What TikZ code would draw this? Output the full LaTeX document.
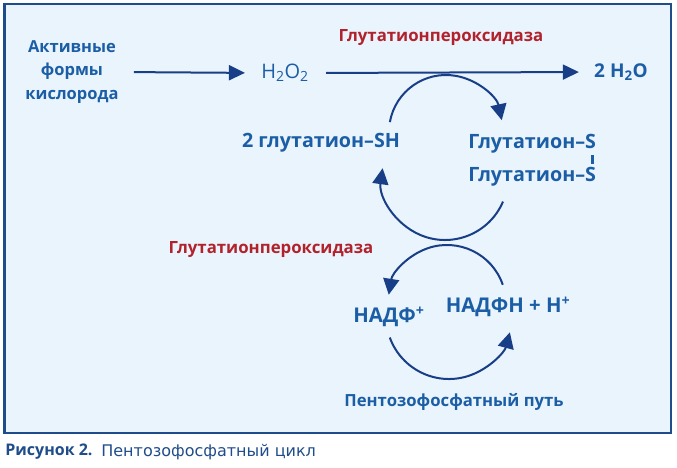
\documentclass[tikz,border=0pt]{standalone}
\usepackage{fontspec}
\setmainfont{Open Sans}
\newfontfamily\capfont{DejaVu Sans}
\usetikzlibrary{arrows.meta,calc}
\definecolor{txtblue}{RGB}{27,94,166}
\definecolor{arrblue}{RGB}{24,62,135}
\definecolor{framblue}{RGB}{31,76,138}
\definecolor{enzred}{RGB}{178,34,44}
\definecolor{boxfill}{RGB}{234,244,252}

\begin{document}
\begin{tikzpicture}[x=1pt,y=1pt,thick]
        %
        % `species' is used for the blue names, `enzyme' for the red ones.
        % `reaction' is used for straight arrows, `turn' for the curved ones.
        % `surround' is used for the background box.
        \tikzstyle{species} = [text=txtblue,font=\bfseries\fontsize{16.5}{23.5}\selectfont,align=center,inner sep=0pt]
        \tikzstyle{formula} = [text=txtblue,font=\fontsize{20}{24}\selectfont,inner sep=0pt]
        \tikzstyle{cyc} = [font=\bfseries\fontsize{19.7}{23}\selectfont]
        \tikzstyle{nad} = [font=\bfseries\fontsize{20.3}{24}\selectfont]
        \tikzstyle{enzyme} = [text=enzred,font=\bfseries\fontsize{16.8}{20}\selectfont,inner sep=0pt]
        \tikzstyle{reaction} = [draw=arrblue,line width=2pt,-{Triangle[length=16pt,width=15pt]}]
        \tikzstyle{turn} = [draw=arrblue,line width=2pt,-{Triangle[length=16pt,width=16pt]}]
        \tikzstyle{surround} = [fill=boxfill,draw=framblue,line width=2.5pt]
        %
        \useasboundingbox (0,0) rectangle (677,468);
        % Background Box
        \draw[surround] (4.5,35) rectangle (671,464);
        %
        % Top row
        \node[species] (ros) at (72,396) {Активные\\формы\\кислорода};
        \node[formula] (hoo) at (285,395) {H\textsubscript{2}O\textsubscript{2}};
        \node[species,font=\bfseries\fontsize{19}{23}\selectfont] (water) at (621,396) {2 H\textsubscript{2}O};
        \node[enzyme] (gpx1) at (441,430) {Глутатионпероксидаза};
        \draw[reaction,shorten <=15pt,shorten >=16pt] (ros.east) -- (hoo.west);
        \draw[reaction,shorten <=17pt,shorten >=15pt] (hoo.east) -- (water.west);
        %
        % Glutathione cycle
        \node[species,cyc] (gsh) at (321,325) {2 глутатион–SH};
        \node[species,cyc,anchor=west] (gss1) at (468,324) {Глутатион–S};
        \node[species,cyc,anchor=west] (gss2) at (468,291) {Глутатион–S};
        \draw[txtblue,line width=2.5pt] ([xshift=-4pt,yshift=-1.5pt]gss1.south east) -- ([xshift=-4pt,yshift=3.5pt]gss2.north east);
        \coordinate (upper) at (446,336);
        \coordinate (middle) at (445,291);
        \draw[turn] ($(upper)+(170:57pt)$) arc[start angle=170,end angle=12,radius=57pt];
        \draw[turn] ($(middle)+(-23:63pt)$) arc[start angle=-23,end angle=-188,radius=63pt];
        %
        % NADP cycle
        \node[enzyme] (gpx2) at (271,218) {Глутатионпероксидаза};
        \node[species,nad] (nadp) at (389,151) {НАДФ\textsuperscript{+}};
        \node[species,nad] (nadph) at (508,161) {НАДФН + Н\textsuperscript{+}};
        \node[species,font=\bfseries\fontsize{16.7}{22}\selectfont] (ppp) at (454,66) {Пентозофосфатный путь};
        \coordinate (lowtop) at (447,164);
        \coordinate (lowbot) at (449,152);
        \draw[turn] ($(lowtop)+(19:59pt)$) arc[start angle=19,end angle=171,radius=59pt];
        \draw[turn] ($(lowbot)+(200:63pt)$) arc[start angle=200,end angle=345,radius=63pt];
        %
        % Caption
        \node[anchor=west,inner sep=0pt,text=framblue,font=\bfseries\fontsize{16}{20}\selectfont] (fig) at (5,16) {Рисунок 2.};
        \node[anchor=west,inner sep=0pt,text=framblue,font=\capfont\fontsize{16}{18}\selectfont] (figtitle) at ([xshift=8pt]fig.east) {Пентозофосфатный цикл};
        %
\end{tikzpicture}
\end{document}
